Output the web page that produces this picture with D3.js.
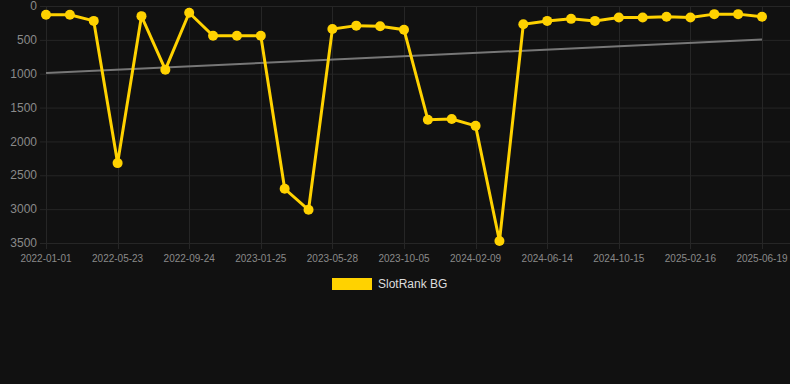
<!DOCTYPE html>
<html>
<head>
<meta charset="utf-8">
<script src="https://cdn.jsdelivr.net/npm/d3@7"></script>
<style>
  html, body { margin: 0; padding: 0; background: #111111; }
  #chart { width: 790px; height: 384px; }
  text { font-family: "Liberation Sans", Arial, sans-serif; }
</style>
</head>
<body>
<div id="chart"></div>
<script>
// categories (only every third label is shown, like the original)
var dates = [
    "2022-01-01", "2022-02-17", "2022-04-05", "2022-05-23", "2022-07-03", "2022-08-14",
    "2022-09-24", "2022-11-04", "2022-12-15", "2023-01-25", "2023-03-07", "2023-04-17",
    "2023-05-28", "2023-07-10", "2023-08-22", "2023-10-05", "2023-11-16", "2023-12-29",
    "2024-02-09", "2024-03-23", "2024-05-03", "2024-06-14", "2024-07-25", "2024-09-04",
    "2024-10-15", "2024-11-25", "2025-01-05", "2025-02-16", "2025-03-29", "2025-05-09",
    "2025-06-19"
];
var rankValues = [
    130, 130, 220, 2320, 150, 940, 100, 440, 440, 440, 2700, 3010,
    340, 290, 300, 350, 1680, 1670, 1770, 3470, 270, 220, 190, 220,
    170, 170, 160, 170, 120, 120, 160
];
var trendValues = [990, 495];
var yTicks = [0, 500, 1000, 1500, 2000, 2500, 3000, 3500];
var seriesName = "SlotRank BG";

var margin = { top: 6, left: 46, right: 28, bottom: 141 };
var W = 790, H = 384;

var svg = d3.select("#chart").append("svg")
    .attr("width", W)
    .attr("height", H);

var x = d3.scalePoint()
    .domain(d3.range(dates.length))
    .range([margin.left, W - margin.right]);

var y = d3.scaleLinear()
    .domain([0, 3500])
    .range([margin.top, H - margin.bottom]);

var shownIdx = d3.range(0, dates.length, 3);

// grid
var grid = svg.append("g").attr("class", "grid");
grid.selectAll(".hgrid")
    .data(yTicks)
    .enter()
    .append("line")
    .attr("x1", margin.left - 6)
    .attr("x2", W)
    .attr("y1", function (d) { return y(d) + 0.5; })
    .attr("y2", function (d) { return y(d) + 0.5; })
    .attr("stroke", "#262626")
    .attr("stroke-width", 1);
grid.selectAll(".vgrid")
    .data(shownIdx)
    .enter()
    .append("line")
    .attr("x1", function (d) { return Math.round(x(d)) + 0.5; })
    .attr("x2", function (d) { return Math.round(x(d)) + 0.5; })
    .attr("y1", margin.top)
    .attr("y2", y(3500) + 6)
    .attr("stroke", "#262626")
    .attr("stroke-width", 1);

// y axis labels
svg.selectAll(".ylab")
    .data(yTicks)
    .enter()
    .append("text")
    .attr("x", 37)
    .attr("y", function (d) { return y(d); })
    .attr("dy", "0.35em")
    .attr("text-anchor", "end")
    .attr("fill", "#8a8a8a")
    .style("font-size", "12px")
    .text(function (d) { return d; });

// x axis labels
svg.selectAll(".xlab")
    .data(shownIdx)
    .enter()
    .append("text")
    .attr("x", function (d) { return x(d); })
    .attr("y", 262)
    .attr("text-anchor", "middle")
    .attr("fill", "#8a8a8a")
    .style("font-size", "10px")
    .text(function (d) { return dates[d]; });

// trend line
svg.append("line")
    .attr("x1", x(0))
    .attr("x2", x(dates.length - 1))
    .attr("y1", y(trendValues[0]))
    .attr("y2", y(trendValues[1]))
    .attr("stroke", "#777777")
    .attr("stroke-width", 2);

// series line
var line = d3.line()
    .x(function (d, i) { return x(i); })
    .y(function (d) { return y(d); });

svg.append("path")
    .datum(rankValues)
    .attr("d", line)
    .attr("fill", "none")
    .attr("stroke", "#FFD200")
    .attr("stroke-width", 3);

svg.selectAll(".dot")
    .data(rankValues)
    .enter()
    .append("circle")
    .attr("cx", function (d, i) { return x(i); })
    .attr("cy", function (d) { return y(d); })
    .attr("r", 5)
    .attr("fill", "#FFD200");

// legend
svg.append("rect")
    .attr("x", 332)
    .attr("y", 278)
    .attr("width", 40)
    .attr("height", 12)
    .attr("fill", "#FFD200");
svg.append("text")
    .attr("x", 378)
    .attr("y", 284)
    .attr("dy", "0.35em")
    .attr("fill", "#dddddd")
    .style("font-size", "12px")
    .text(seriesName);
</script>
</body>
</html>
